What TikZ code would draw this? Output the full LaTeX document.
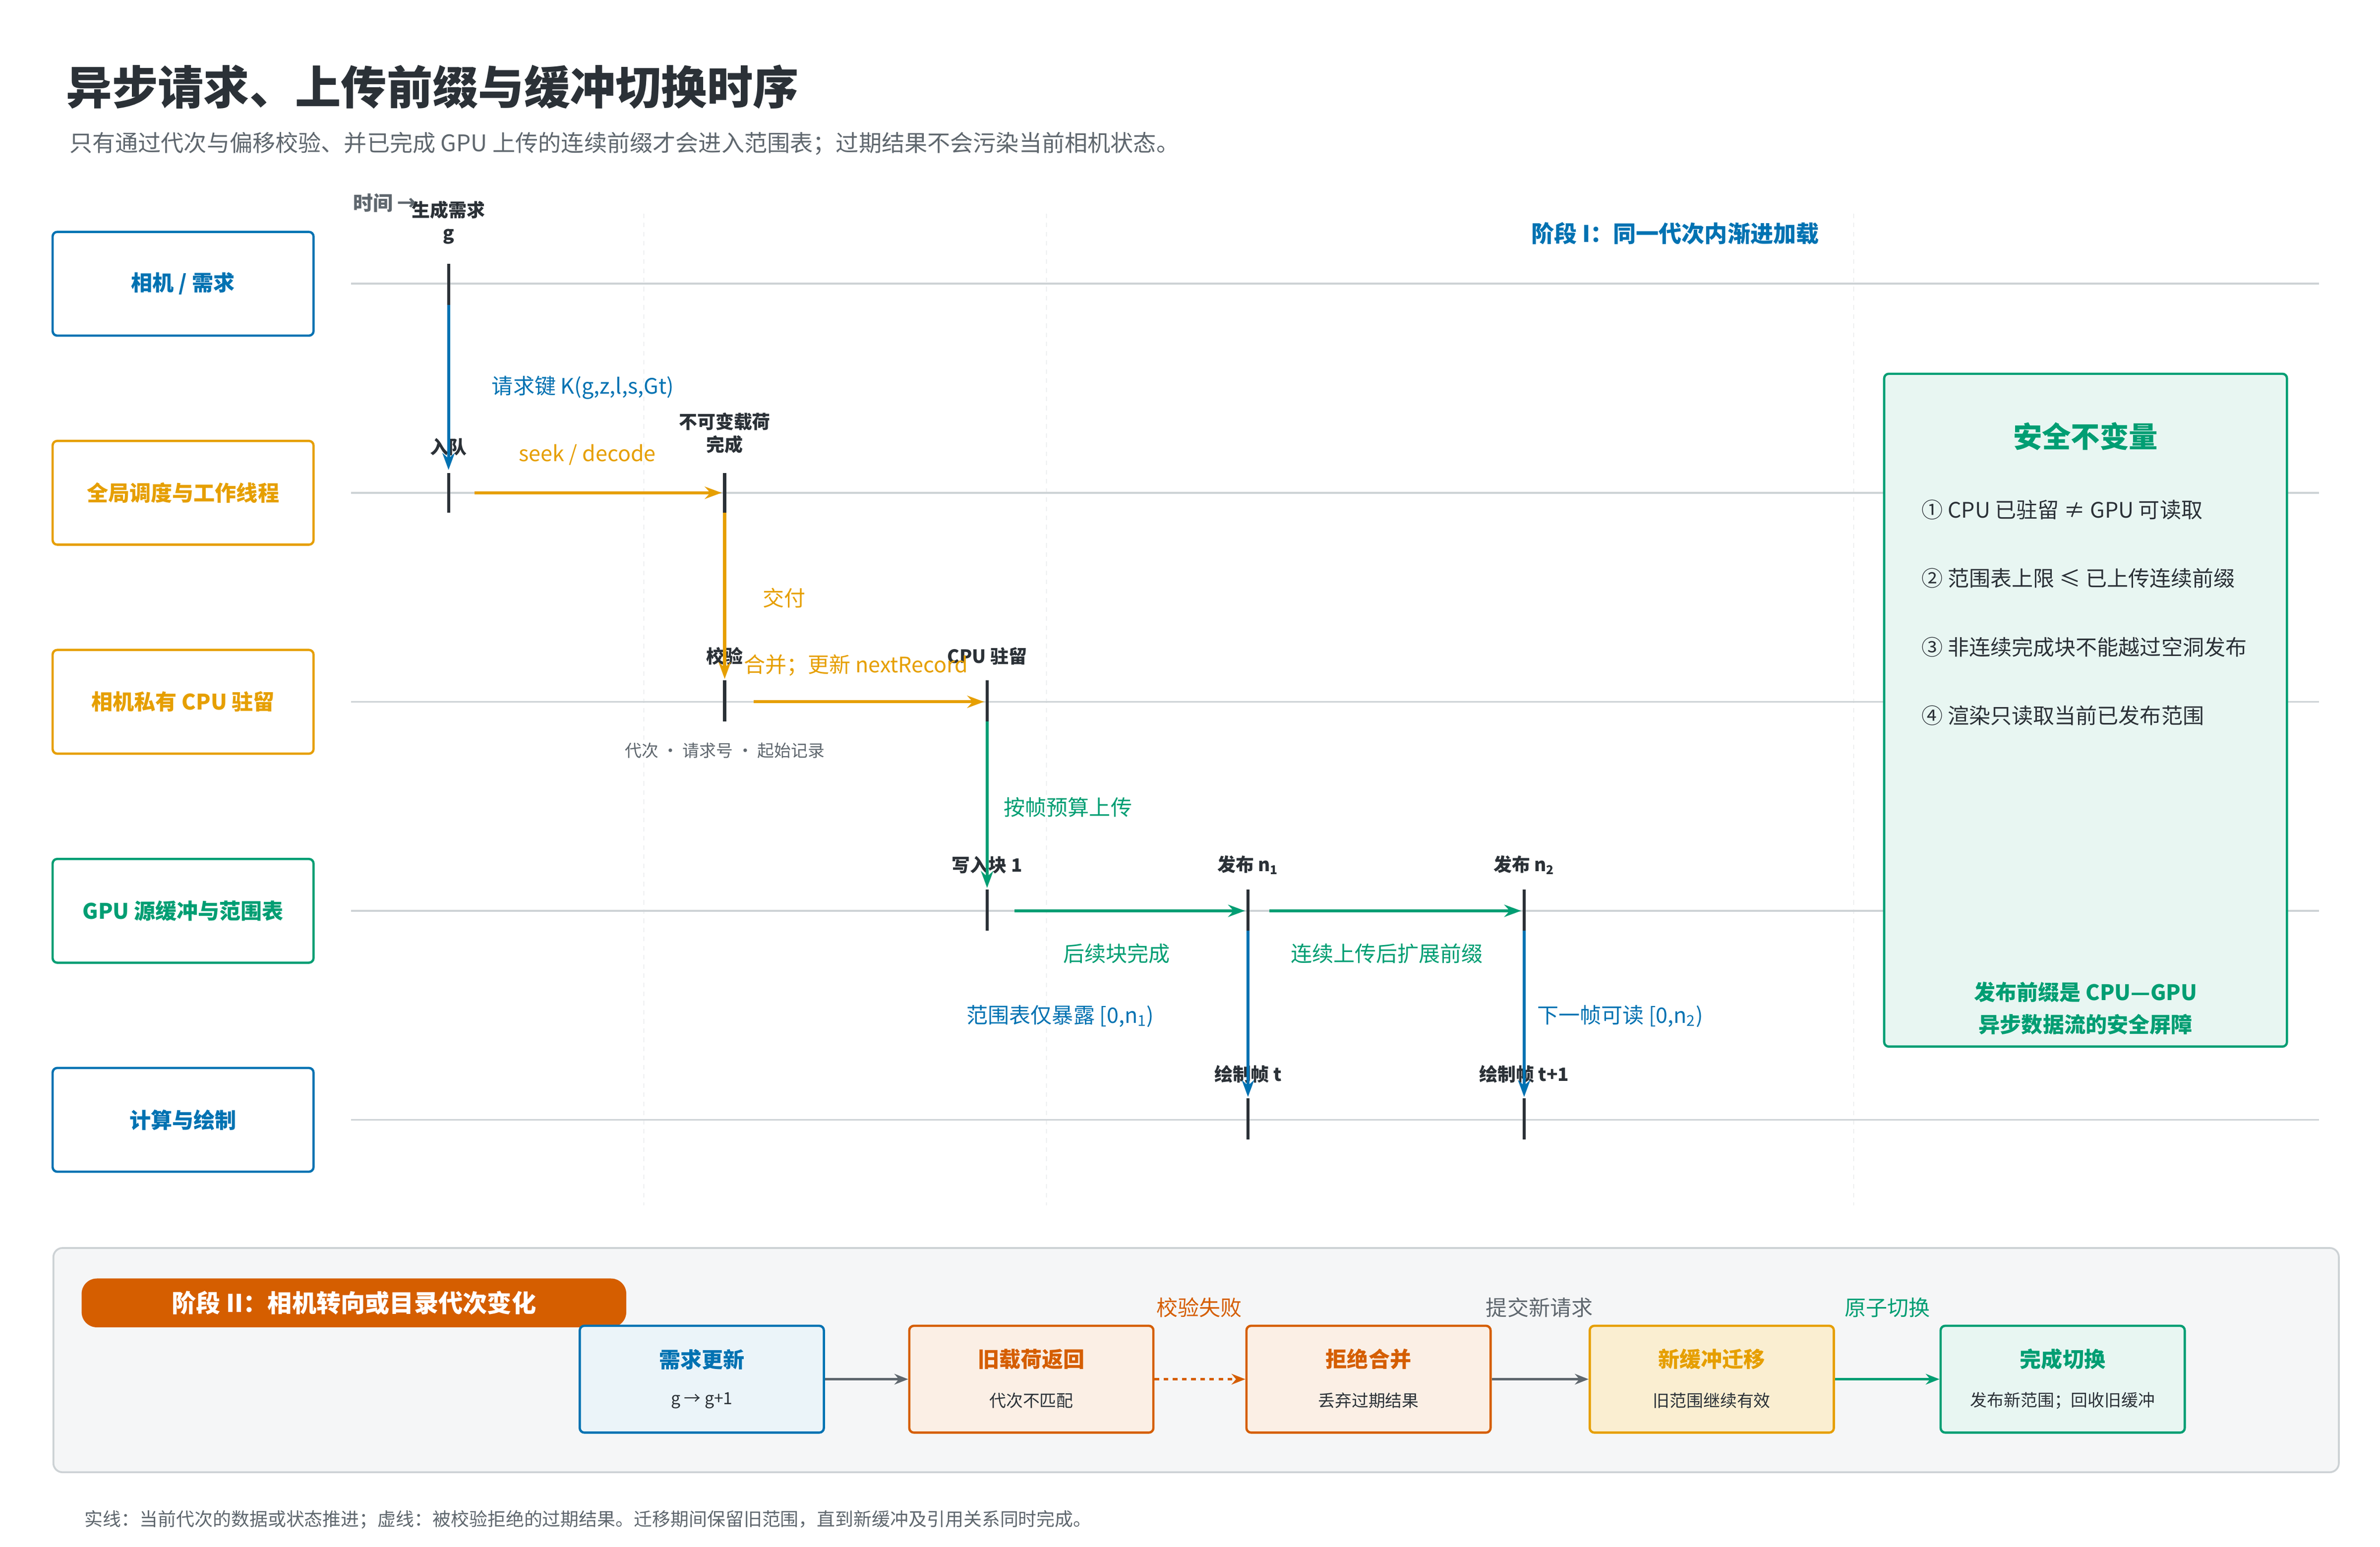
\documentclass[tikz,border=0pt]{standalone}
\usepackage{fontspec}
\setmainfont{Noto Sans CJK SC}
\usepackage{tikz}
\usetikzlibrary{arrows.meta,positioning}
\definecolor{cblue}{HTML}{0072B2}
\definecolor{corange}{HTML}{E69F00}
\definecolor{cgreen}{HTML}{009E73}
\definecolor{cred}{HTML}{D55E00}
\definecolor{cdark}{HTML}{2B3137}
\definecolor{cgray}{HTML}{5F676E}
\definecolor{cline}{HTML}{CDD2D5}
\tikzset{
  lane/.style={draw, line width=1.5pt, rounded corners=3pt, minimum width=171pt, minimum height=68pt, font=\fontsize{14}{16}\selectfont\bfseries},
  tick/.style={cdark, line width=2pt},
  ev/.style={font=\fontsize{12}{15}\selectfont\bfseries, text=cdark, align=center},
  lbl/.style={font=\fontsize{14}{16}\selectfont},
  arr/.style={line width=2pt, -{Stealth[length=11pt,width=8pt]}},
  stepbox/.style={draw, line width=1.5pt, rounded corners=3pt, minimum width=160pt, minimum height=70pt},
}
\begin{document}
\begin{tikzpicture}[x=1pt,y=-1pt]
\useasboundingbox[fill=white] (0,0) rectangle (1560,1014);
% title
\node[anchor=west, font=\fontsize{30}{34}\selectfont\bfseries, text=cdark] (title) at (40,57) {异步请求、上传前缀与缓冲切换时序};
\node[anchor=west, font=\fontsize{15}{18}\selectfont, text=cgray] (sub) at (42,94) {只有通过代次与偏移校验、并已完成 GPU 上传的连续前缀才会进入范围表；过期结果不会污染当前相机状态。};
% grid
\foreach \x in {422,686,1215} \draw[cline!60, dashed] (\x,140) -- (\x,790);
\foreach \y in {186,323,460,597,734} \draw[cline, line width=1.2pt] (230,\y) -- (1520,\y);
\node[anchor=west, font=\fontsize{13}{15}\selectfont\bfseries, text=cgray] (time) at (228,133) {时间 →};
% lanes
\node[lane, cblue, text=cblue] (cam) at (120,186) {相机 / 需求};
\node[lane, corange, text=corange] (sched) at (120,323) {全局调度与工作线程};
\node[lane, corange, text=corange] (cpu) at (120,460) {相机私有 CPU 驻留};
\node[lane, cgreen, text=cgreen] (gpu) at (120,597) {GPU 源缓冲与范围表};
\node[lane, cblue, text=cblue] (draw) at (120,734) {计算与绘制};
% ticks
\draw[tick] (294,173) -- (294,200);
\draw[tick] (294,310) -- (294,336);
\draw[tick] (475,310) -- (475,336);
\draw[tick] (475,446) -- (475,473);
\draw[tick] (647,446) -- (647,473);
\draw[tick] (647,583) -- (647,610);
\draw[tick] (818,583) -- (818,610);
\draw[tick] (999,583) -- (999,610);
\draw[tick] (818,720) -- (818,747);
\draw[tick] (999,720) -- (999,747);
% event labels
\node[ev] (e1) at (294,146) {生成需求\\g};
\node[ev] (e2) at (294,293) {入队};
\node[ev] (e3) at (475,284) {不可变载荷\\完成};
\node[ev] (e4) at (475,430) {校验};
\node[ev] (e5) at (647,430) {CPU 驻留};
\node[ev] (e6) at (647,567) {写入块 1};
\node[ev] (e7) at (818,567) {发布 n\textsubscript{1}};
\node[ev] (e8) at (999,567) {发布 n\textsubscript{2}};
\node[ev] (e9) at (818,704) {绘制帧 t};
\node[ev] (e10) at (999,704) {绘制帧 t+1};
% connector ends
\coordinate (a1) at (294,200); \coordinate (a2) at (294,308);
\coordinate (b1) at (311,323); \coordinate (b2) at (473,323);
\coordinate (c1) at (475,336); \coordinate (c2) at (475,445);
\coordinate (d1) at (494,460); \coordinate (d2) at (645,460);
\coordinate (f1) at (647,473); \coordinate (f2) at (647,582);
\coordinate (g1) at (665,597); \coordinate (g2) at (816,597);
\coordinate (h1) at (832,597); \coordinate (h2) at (997,597);
\coordinate (k1) at (818,610); \coordinate (k2) at (818,719);
\coordinate (m1) at (999,610); \coordinate (m2) at (999,719);
\draw[arr, cblue] (a1) -- (a2);
\draw[arr, corange] (b1) -- (b2);
\draw[arr, corange] (c1) -- (c2);
\draw[arr, corange] (d1) -- (d2);
\draw[arr, cgreen] (f1) -- (f2);
\draw[arr, cgreen] (g1) -- (g2);
\draw[arr, cgreen] (h1) -- (h2);
\draw[arr, cblue] (k1) -- (k2);
\draw[arr, cblue] (m1) -- (m2);
% connector labels
\node[lbl, text=cblue] (l1) at (382,254) {请求键 K(g,z,l,s,Gt)};
\node[lbl, text=corange] (l2) at (385,298) {seek / decode};
\node[lbl, text=corange] (l3) at (514,392) {交付};
\node[lbl, text=corange] (l4) at (561,436) {合并；更新 nextRecord};
\node[font=\fontsize{11}{13}\selectfont, text=cgray] (l5) at (475,492) {代次 · 请求号 · 起始记录};
\node[lbl, text=cgreen] (l6) at (700,529) {按帧预算上传};
\node[lbl, text=cgreen] (l7) at (732,625) {后续块完成};
\node[lbl, text=cgreen] (l8) at (909,625) {连续上传后扩展前缀};
\node[lbl, text=cblue] (l9) at (695,666) {范围表仅暴露 [0,n\textsubscript{1})};
\node[lbl, text=cblue, anchor=west] (l10) at (1004,666) {下一帧可读 [0,n\textsubscript{2})};
\node[font=\fontsize{15}{18}\selectfont\bfseries, text=cblue] (ph1) at (1098,153) {阶段 I：同一代次内渐进加载};
% invariants
\draw[cgreen, line width=1.5pt, fill=cgreen!9, rounded corners=3pt] (1235,245) rectangle (1499,686);
\node[font=\fontsize{19}{22}\selectfont\bfseries, text=cgreen] (inv) at (1367,286) {安全不变量};
\foreach \t [count=\i] in {① CPU 已驻留 ≠ GPU 可读取, ② 范围表上限 ≤ 已上传连续前缀, ③ 非连续完成块不能越过空洞发布, ④ 渲染只读取当前已发布范围}
  \node[anchor=west, font=\fontsize{14}{16}\selectfont, text=cdark] (inv\i) at (1256,289+45*\i) {\t};
\node[font=\fontsize{14}{21}\selectfont\bfseries, text=cgreen, align=center] (invf) at (1367,661) {发布前缀是 CPU—GPU\\异步数据流的安全屏障};
% phase II
\draw[cline, line width=1.2pt, fill=cline!20, rounded corners=6pt] (35,818) rectangle (1533,965);
\node[fill=cred, rounded corners=10pt, minimum width=357pt, minimum height=32pt, text=white, font=\fontsize{16}{18}\selectfont\bfseries] (ph2) at (232,854) {阶段 II：相机转向或目录代次变化};
\node[stepbox, cblue, fill=cblue!8] (s1) at (460,904) {};
\node[stepbox, cred, fill=cred!10] (s2) at (676,904) {};
\node[stepbox, cred, fill=cred!10] (s3) at (897,904) {};
\node[stepbox, corange, fill=corange!18] (s4) at (1122,904) {};
\node[stepbox, cgreen, fill=cgreen!9] (s5) at (1352,904) {};
\foreach \n/\c/\a/\b in {s1/cblue/需求更新/g → g+1, s2/cred/旧载荷返回/代次不匹配, s3/cred/拒绝合并/丢弃过期结果, s4/corange/新缓冲迁移/旧范围继续有效, s5/cgreen/完成切换/发布新范围；回收旧缓冲} {
  \node[font=\fontsize{14}{16}\selectfont\bfseries, text=\c] at ([yshift=13pt]\n.center) {\a};
  \node[font=\fontsize{11}{13}\selectfont, text=cdark] at ([yshift=-14pt]\n.center) {\b};
}
\draw[cgray, line width=1.5pt, -{Stealth[length=9pt,width=7pt]}] (s1) -- (s2);
\draw[cred, line width=1.5pt, dashed, -{Stealth[length=9pt,width=7pt]}] (s2) -- (s3);
\draw[cgray, line width=1.5pt, -{Stealth[length=9pt,width=7pt]}] (s3) -- (s4);
\draw[cgreen, line width=1.5pt, -{Stealth[length=9pt,width=7pt]}] (s4) -- (s5);
\node[lbl, text=cred] (t1) at (786,857) {校验失败};
\node[lbl, text=cgray] (t2) at (1009,857) {提交新请求};
\node[lbl, text=cgreen] (t3) at (1237,857) {原子切换};
\node[anchor=west, font=\fontsize{12}{14}\selectfont, text=cgray] (note) at (52,996) {实线：当前代次的数据或状态推进；虚线：被校验拒绝的过期结果。迁移期间保留旧范围，直到新缓冲及引用关系同时完成。};
\end{tikzpicture}
\end{document}
